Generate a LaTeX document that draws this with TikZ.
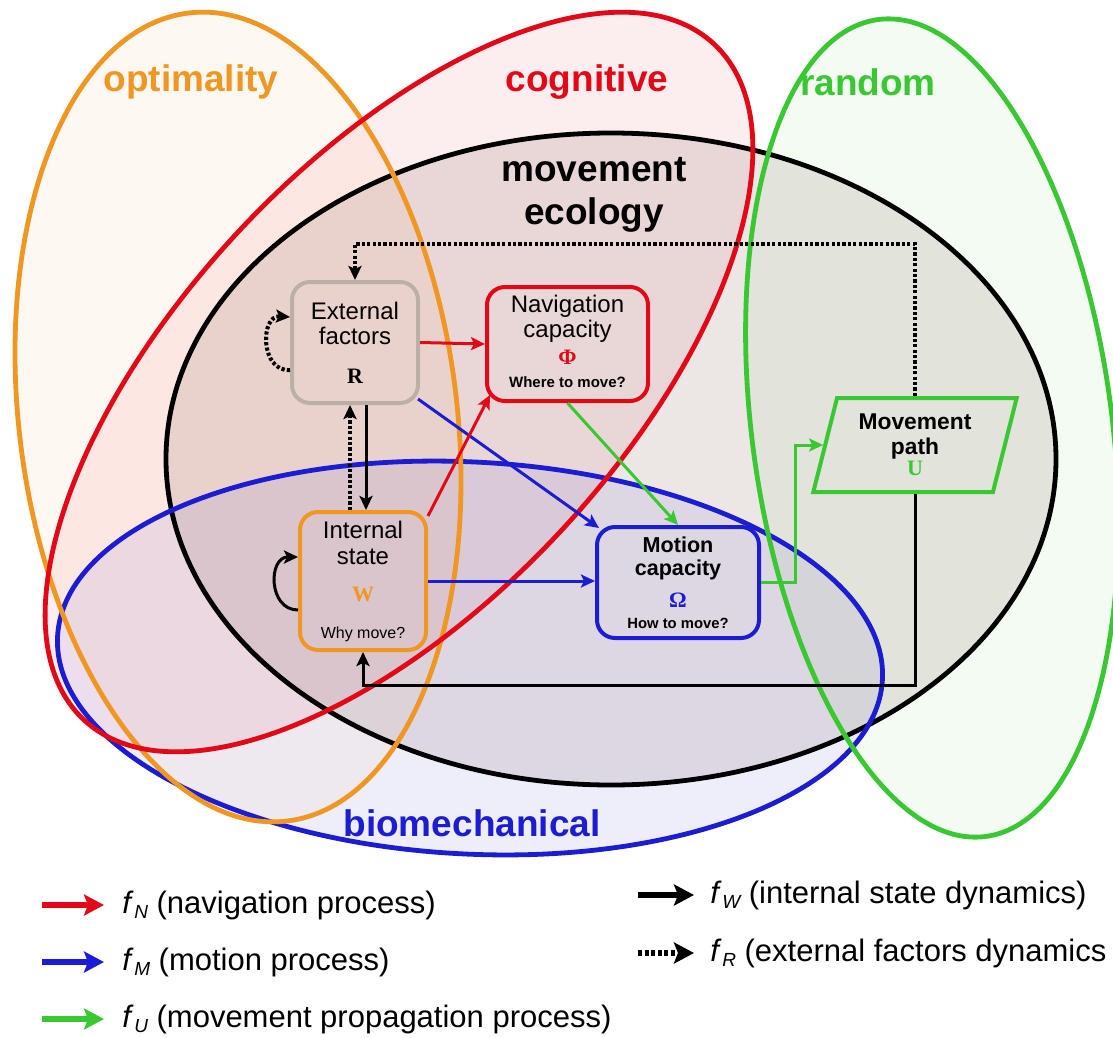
\documentclass[tikz,border=0pt]{standalone}
\usepackage{fontspec}
\setmainfont{Liberation Sans}
\newfontfamily\serifb{Liberation Serif}
\usetikzlibrary{arrows.meta,shapes.geometric,calc}
\definecolor{cRed}{RGB}{226,8,24}
\definecolor{cOra}{RGB}{240,150,35}
\definecolor{cGrn}{RGB}{58,200,50}
\definecolor{cBlu}{RGB}{28,28,210}
\definecolor{cGry}{RGB}{186,176,168}
\definecolor{cBrn}{RGB}{140,105,95}
\newcommand{\fsub}[1]{\textit{f}\kern0.3pt\raisebox{-0.32ex}{\fontsize{9.5}{9.5}\selectfont\itshape #1}}
\begin{document}
\begin{tikzpicture}[x=0.5pt,y=-0.5pt,
  ell/.style={line width=2.4pt},
  box/.style={rounded corners=9pt,line width=2pt,align=center,inner sep=0pt,
     font=\fontsize{12}{12.5}\selectfont},
  tip/.style={-{Stealth[length=7pt,width=6.5pt,inset=1.5pt]}},
  conn/.style={line width=1.5pt,tip},
  dotc/.style={line width=2pt,dash pattern=on 1.6pt off 1.1pt,tip},
  lab/.style={font=\bfseries\fontsize{18.5}{21.5}\selectfont,align=center},
  leg/.style={anchor=west,font=\fontsize{15.5}{16.5}\selectfont,inner sep=0pt},
  legarrow/.style={line width=3pt,-{Stealth[length=10pt,width=10.5pt,inset=2pt]}}
]
\useasboundingbox (0,0) rectangle (1113,1038);
\fill[white] (0,0) rectangle (1113,1038);

% ---- ellipse fills
\fill[cOra,opacity=0.06,rotate around={7:(238,417)}] (238,417) ellipse [x radius=219,y radius=407];
\fill[cRed,opacity=0.07,rotate around={47:(399,382)}] (399,382) ellipse [x radius=462,y radius=220];
\fill[cGrn,opacity=0.06,rotate around={7.5:(932,428)}] (932,428) ellipse [x radius=180,y radius=412];
\fill[cBrn,opacity=0.16] (611,459) ellipse [x radius=445,y radius=326];
\fill[cBlu,opacity=0.07,rotate around={-3:(470,658)}] (470,658) ellipse [x radius=413,y radius=196];

% ---- ellipse outlines
\draw[ell,black] (611,459) ellipse [x radius=445,y radius=326];
\draw[ell,cBlu,rotate around={-3:(470,658)}] (470,658) ellipse [x radius=413,y radius=196];
\draw[ell,cOra,rotate around={7:(238,417)}] (238,417) ellipse [x radius=219,y radius=407];
\draw[ell,cGrn,rotate around={7.5:(932,428)}] (932,428) ellipse [x radius=180,y radius=412];
\draw[ell,cRed,rotate around={47:(399,382)}] (399,382) ellipse [x radius=462,y radius=220];

% ---- set labels
\node[lab,text=cOra] (lopt) at (191,82) {optimality};
\node[lab,text=cRed] (lcog) at (587,82) {cognitive};
\node[lab,text=cGrn] (lran) at (868,82) {random};
\node[lab,text=black] (lme) at (594,195) {movement\\ecology};
\node[lab,text=cBlu] (lbio) at (472,823) {biomechanical};

% ---- boxes
\node[box,draw=cGry,minimum width=63pt,minimum height=60.5pt] (ext) at (355,342.5)
  {External\\factors\\[7pt]{\serifb\bfseries\fontsize{11}{11}\selectfont R}};
\node[box,draw=cRed,minimum width=80.5pt,minimum height=57pt] (nav) at (567.5,344)
  {\rule{0pt}{3pt}\\[-9pt]Navigation\\capacity\\[1pt]{\serifb\bfseries\fontsize{11}{11}\selectfont\color{cRed}Φ}\\[-1pt]{\bfseries\fontsize{7.5}{9}\selectfont Where to move?}};
\node[box,draw=cOra,minimum width=63pt,minimum height=69pt] (int) at (363,581)
  {Internal\\[0.5pt]state\\[6pt]{\serifb\bfseries\fontsize{11}{11}\selectfont\color{cOra}W}\\[6pt]{\fontsize{8}{9}\selectfont Why move?}};
\node[box,draw=cBlu,minimum width=81pt,minimum height=55.5pt,font=\bfseries\fontsize{10.8}{11.5}\selectfont] (mot) at (678,582.5)
  {Motion\\capacity\\[4.5pt]{\serifb\bfseries\fontsize{11}{11}\selectfont\color{cBlu}Ω}\\[-1pt]{\fontsize{7.4}{9}\selectfont How to move?}};
\node[trapezium,trapezium left angle=74.5,trapezium right angle=105.5,trapezium stretches=true,
  draw=cGrn,line width=2pt,minimum width=102.5pt,minimum height=47pt,inner sep=0pt,align=center,
  font=\bfseries\fontsize{11.4}{12.5}\selectfont] (mp) at (915,445)
  {Movement\\path\\[-2pt]{\serifb\bfseries\fontsize{11}{11}\selectfont\color{cGrn}U}};

% ---- connectors
\draw[dotc] (mp.north) |- ([yshift=18pt]ext.north) -- (ext.north);
\draw[dotc] ([yshift=-13.75pt]ext.west) .. controls +(-30,2) and +(-30,-2) .. ([yshift=12.75pt]ext.west);
\draw[conn,cRed] (ext.east) -- (nav.west);
\draw[conn,cBlu] ([xshift=-1pt,yshift=3pt]ext.south east) -- ([xshift=2pt,yshift=-1.5pt]mot.north west);
\draw[dotc] ([xshift=-6.5pt]int.north) -- ([xshift=-6.5pt]int.north |- ext.south);
\draw[conn,black] ([xshift=1.5pt]int.north |- ext.south) -- ([xshift=1.5pt]int.north);
\draw[conn,cRed] ([yshift=-3pt]int.north east) -- ([xshift=2.5pt,yshift=4pt]nav.south west);
\draw[conn,cBlu] (int.east) -- (int.east -| mot.west);
\draw[conn,cGrn] (nav.south) -- (mot.north);
\draw[conn,cGrn] (mot.east) -- ++(34,0) |- (mp.west);
\draw[conn,black] (mp.south) |- ([yshift=-16.5pt]int.south) -- (int.south);
\draw[conn,black] ([yshift=-14.5pt]int.west) .. controls +(-30,0) and +(-30,0) .. ([yshift=12pt]int.west);

% ---- legend
\node[leg] (l1) at (122,905) {\fsub{N} (navigation process)};
\node[leg] (l2) at (122,962) {\fsub{M} (motion process)};
\node[leg] (l3) at (122,1019) {\fsub{U} (movement propagation process)};
\node[leg] (l4) at (710,895) {\fsub{W} (internal state dynamics)};
\node[leg] (l5) at (710,953) {\fsub{R} (external factors dynamics};
\draw[legarrow,cRed] ([xshift=-40pt]l1.west) -- ([xshift=-9pt]l1.west);
\draw[legarrow,cBlu] ([xshift=-40pt]l2.west) -- ([xshift=-9pt]l2.west);
\draw[legarrow,cGrn] ([xshift=-40pt]l3.west) -- ([xshift=-9pt]l3.west);
\draw[legarrow,black] ([xshift=-36pt]l4.west) -- ([xshift=-8pt]l4.west);
\draw[legarrow,black,dash pattern=on 2pt off 1.3pt] ([xshift=-36pt]l5.west) -- ([xshift=-8pt]l5.west);
\end{tikzpicture}
\end{document}
